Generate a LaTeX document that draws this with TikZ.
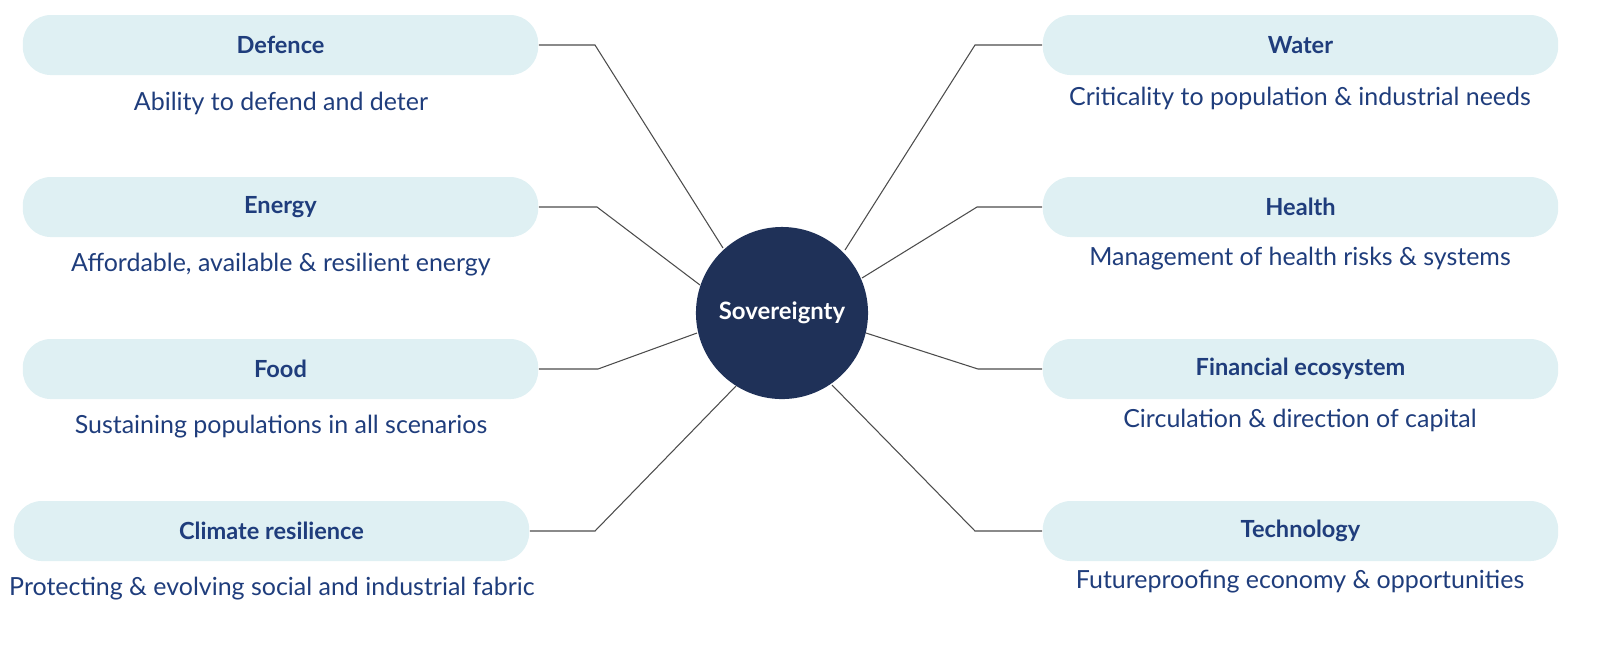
\documentclass[tikz,border=0pt]{standalone}
\usepackage{fontspec}
\setmainfont{Lato}
\definecolor{txt}{HTML}{1F3D7C}
\definecolor{boxc}{HTML}{DFF0F3}
\definecolor{circ}{HTML}{1F3158}
\begin{document}
\begin{tikzpicture}[x=0.01cm,y=-0.01cm,
  pill/.style={fill=boxc,rounded corners=0.28cm,minimum width=5.15cm,minimum height=0.6cm,text=txt,font=\fontsize{6.7}{8}\selectfont\bfseries},
  sub/.style={text=txt,font=\fontsize{7.1}{8}\selectfont},
  conn/.style={draw=black!70,line width=0.3pt}]
\useasboundingbox (0,0) rectangle (1617,647);
\node[circle,fill=circ,minimum size=1.72cm,text=white,font=\fontsize{6.8}{8}\selectfont\bfseries] (c) at (782,313) {Sovereignty};
\node[pill] (b1) at (280.5,45) {Defence};
\node[pill] (b2) at (280.5,207) {Energy};
\node[pill] (b3) at (280.5,369) {Food};
\node[pill] (b4) at (271.5,531) {Climate resilience};
\node[pill] (b5) at (1300.5,45) {Water};
\node[pill] (b6) at (1300.5,207) {Health};
\node[pill] (b7) at (1300.5,369) {Financial ecosystem};
\node[pill] (b8) at (1300.5,531) {Technology};
\node[sub] (s1) at (281,103) {Ability to defend and deter};
\node[sub] (s2) at (281,265) {Affordable, available \& resilient energy};
\node[sub] (s3) at (281,427) {Sustaining populations in all scenarios};
\node[sub] (s4) at (272,589) {Protecting \& evolving social and industrial fabric};
\node[sub] (s5) at (1300,98) {Criticality to population \& industrial needs};
\node[sub] (s6) at (1300,259) {Management of health risks \& systems};
\node[sub] (s7) at (1300,420) {Circulation \& direction of capital};
\node[sub] (s8) at (1300,582) {Futureproofing economy \& opportunities};
\coordinate (k1) at (595,45); \coordinate (e1) at (723,248);
\coordinate (k2) at (597,207); \coordinate (e2) at (700,285);
\coordinate (k3) at (598,369); \coordinate (e3) at (697,333);
\coordinate (k4) at (595,531); \coordinate (e4) at (736,386);
\coordinate (k5) at (975,45); \coordinate (e5) at (845,250);
\coordinate (k6) at (977,207); \coordinate (e6) at (862,278);
\coordinate (k7) at (978,369); \coordinate (e7) at (866,333);
\coordinate (k8) at (975,531); \coordinate (e8) at (832,385);
\foreach \i in {1,...,8}{\draw[conn] (b\i.\ifnum\i<5 east\else west\fi) -- (k\i) -- (e\i);}
\end{tikzpicture}
\end{document}
